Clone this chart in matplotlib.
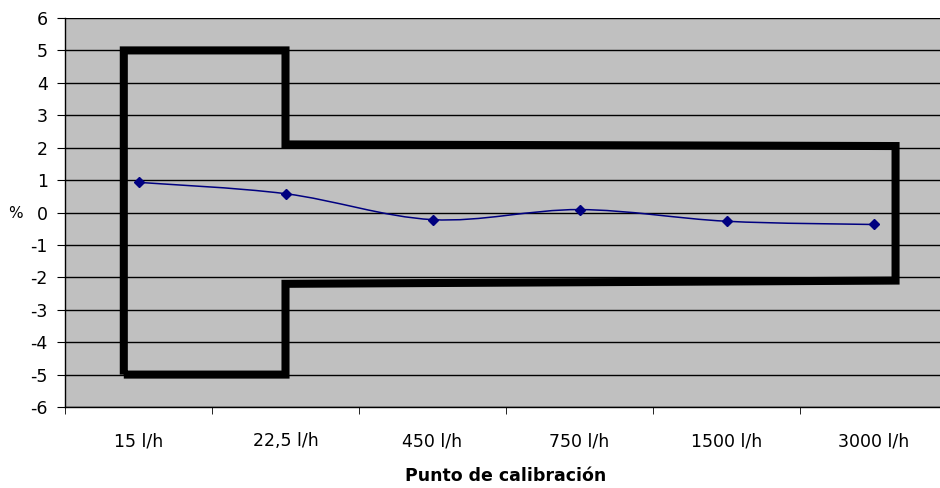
import numpy as np
import matplotlib
matplotlib.use("Agg")
import matplotlib.pyplot as plt
from matplotlib.path import Path
from matplotlib.patches import PathPatch

# --- Data ---
categories = ["15 l/h", "22,5 l/h", "450 l/h", "750 l/h", "1500 l/h", "3000 l/h"]
error_pct = [0.93, 0.58, -0.22, 0.09, -0.27, -0.37]

# tolerance envelope (x in category units, y in %)
limit_x = [-0.1, -0.1, 1.0, 1.0, 5.15, 5.15, 1.0, 1.0, -0.1]
limit_y = [-5.0, 5.0, 5.0, 2.1, 2.05, -2.1, -2.2, -5.0, -5.0]

yticks = list(range(-6, 7))

plt.rcParams['font.family'] = ['DejaVu Sans']
plt.rcParams['axes.unicode_minus'] = False

fig = plt.figure(figsize=(9.4, 4.88), dpi=100)
ax = fig.add_axes([65 / 940, 1 - 407 / 488, (947 - 65) / 940, (407 - 18) / 488])
ax.set_facecolor("#c0c0c0")

xs = np.arange(len(categories))

# horizontal grid
for y in yticks:
    ax.axhline(y, color="black", lw=1.0, zorder=1)

# envelope
ax.plot(limit_x, limit_y, color="black", lw=5.8, solid_joinstyle="miter",
        solid_capstyle="butt", zorder=2)

# smoothed line (Catmull-Rom style bezier through the points)
pts = np.column_stack([xs, error_pct]).astype(float)
verts = [pts[0]]
codes = [Path.MOVETO]
for i in range(len(pts) - 1):
    p0 = pts[i - 1] if i > 0 else pts[i]
    p1 = pts[i]
    p2 = pts[i + 1]
    p3 = pts[i + 2] if i + 2 < len(pts) else pts[i + 1]
    c1 = p1 + (p2 - p0) / 6.0
    c2 = p2 - (p3 - p1) / 6.0
    verts += [c1, c2, p2]
    codes += [Path.CURVE4] * 3
ax.add_patch(PathPatch(Path(verts, codes), facecolor="none", edgecolor="#000080",
                       lw=1.1, zorder=3))
ax.plot(xs, error_pct, linestyle="none", marker="D", markersize=5.5,
        color="#000080", zorder=4)

ax.set_xlim(-0.5, len(categories) - 0.5)
ax.set_ylim(-6, 6)

ax.set_yticks(yticks)
ax.set_yticklabels([str(v) for v in yticks])
ax.set_xticks(xs)
ax.set_xticklabels(categories)
ax.set_xticks(np.arange(-0.5, len(categories), 1.0), minor=True)
ax.tick_params(axis="x", which="major", length=0, pad=18, labelsize=12.5)
ax.tick_params(axis="x", which="minor", length=5, direction="out", color="black")
ax.tick_params(axis="y", length=5.5, direction="out", labelsize=12.5, pad=7)

for side in ["top", "right"]:
    ax.spines[side].set_visible(False)
for side in ["left", "bottom"]:
    ax.spines[side].set_color("black")
    ax.spines[side].set_linewidth(1.0)

ax.set_xlabel("Punto de calibración", fontsize=12.5, fontweight="bold", labelpad=12)
fig.text(15 / 940, 1 - 214 / 488, "%", fontsize=11, ha="center", va="center")

fig.savefig("out.png", dpi=100)
